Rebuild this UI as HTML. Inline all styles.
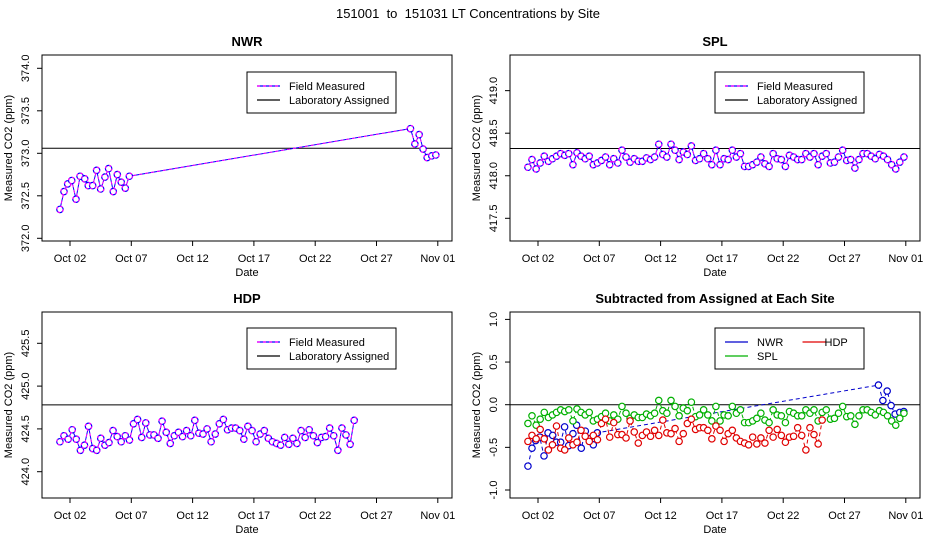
<!DOCTYPE html>
<html><head><meta charset="utf-8"><style>
html,body{margin:0;padding:0;background:#fff}
svg{display:block;font-family:"Liberation Sans",Arial,sans-serif}
text{white-space:pre}
</style></head><body>
<svg id="c" width="936" height="540" xmlns="http://www.w3.org/2000/svg"></svg>
<script>
const nwrDays=[0.18,0.51,0.81,1.14,1.49,1.82,2.20,2.49,2.85,3.17,3.50,3.85,4.15,4.53,4.86,5.18,5.51,5.84,28.77,29.13,29.48,29.80,30.13,30.51,30.84];
const nwrVals=[372.34,372.55,372.64,372.68,372.46,372.73,372.70,372.62,372.62,372.80,372.58,372.72,372.82,372.55,372.75,372.66,372.59,372.73,373.29,373.11,373.22,373.05,372.95,372.97,372.98];
const nwrAssigned=373.06;
const splDays=[0.18,0.51,0.85,1.18,1.51,1.85,2.18,2.51,2.85,3.18,3.51,3.85,4.18,4.51,4.85,5.18,5.51,5.85,6.18,6.51,6.85,7.18,7.51,7.85,8.18,8.51,8.85,9.18,9.51,9.85,10.18,10.51,10.85,11.18,11.51,11.85,12.18,12.51,12.85,13.18,13.51,13.85,14.18,14.51,14.85,15.18,15.51,15.85,16.18,16.51,16.85,17.18,17.51,17.85,18.18,18.51,18.85,19.18,19.51,19.85,20.18,20.51,20.85,21.18,21.51,21.85,22.18,22.51,22.85,23.18,23.51,23.85,24.18,24.51,24.85,25.18,25.51,25.85,26.18,26.51,26.85,27.18,27.51,27.85,28.18,28.51,28.85,29.18,29.51,29.85,30.18,30.51,30.85];
const splVals=[418.10,418.19,418.08,418.15,418.23,418.17,418.20,418.23,418.26,418.24,418.26,418.13,418.27,418.23,418.20,418.23,418.13,418.15,418.18,418.22,418.13,418.20,418.15,418.30,418.22,418.16,418.20,418.17,418.17,418.21,418.19,418.22,418.37,418.25,418.22,418.37,418.30,418.19,418.28,418.25,418.35,418.18,418.20,418.26,418.20,418.13,418.30,418.13,418.20,418.19,418.30,418.22,418.26,418.11,418.11,418.13,418.16,418.22,418.14,418.11,418.26,418.20,418.19,418.11,418.24,418.22,418.19,418.19,418.26,418.22,418.26,418.13,418.23,418.26,418.15,418.16,418.22,418.30,418.18,418.19,418.09,418.19,418.26,418.26,418.23,418.20,418.25,418.23,418.19,418.13,418.08,418.16,418.22];
const splAssigned=418.32;
const hdpDays=[0.18,0.51,0.85,1.18,1.51,1.85,2.18,2.51,2.85,3.18,3.51,3.85,4.18,4.51,4.85,5.18,5.51,5.85,6.18,6.51,6.85,7.18,7.51,7.85,8.18,8.51,8.85,9.18,9.51,9.85,10.18,10.51,10.85,11.18,11.51,11.85,12.18,12.51,12.85,13.18,13.51,13.85,14.18,14.51,14.85,15.18,15.51,15.85,16.18,16.51,16.85,17.18,17.51,17.85,18.18,18.51,18.85,19.18,19.51,19.85,20.18,20.51,20.85,21.18,21.51,21.85,22.18,22.51,22.85,23.18,23.51,23.85,24.18];
const hdpVals=[424.35,424.42,424.38,424.49,424.38,424.25,424.31,424.53,424.27,424.25,424.39,424.31,424.34,424.48,424.41,424.35,424.42,424.37,424.56,424.61,424.40,424.57,424.43,424.43,424.39,424.59,424.46,424.33,424.42,424.46,424.41,424.48,424.42,424.60,424.45,424.44,424.50,424.35,424.44,424.56,424.61,424.49,424.51,424.51,424.48,424.38,424.53,424.48,424.35,424.44,424.48,424.39,424.35,424.33,424.31,424.40,424.32,424.39,424.33,424.48,424.40,424.49,424.42,424.34,424.40,424.41,424.51,424.42,424.25,424.51,424.43,424.32,424.60];
const hdpAssigned=424.78;
const xTickDays=[1,6,11,16,21,26,31];
const xTickLabels=["Oct 02","Oct 07","Oct 12","Oct 17","Oct 22","Oct 27","Nov 01"];
const nwrTicks=[372.0,372.5,373.0,373.5,374.0];
const splTicks=[417.5,418.0,418.5,419.0];
const hdpTicks=[424.0,424.5,425.0,425.5];
const diffTicks=[-1.0,-0.5,0.0,0.5,1.0];

const svg=document.getElementById('c');
const NS='http://www.w3.org/2000/svg';
function el(tag,attrs,parent){const e=document.createElementNS(NS,tag);for(const k in attrs)e.setAttribute(k,attrs[k]);(parent||svg).appendChild(e);return e;}
function txt(s,x,y,attrs,parent){const t=el('text',Object.assign({x:x,y:y,'font-size':11,'text-anchor':'middle',fill:'#000'},attrs),parent);t.textContent=s;return t;}

const t0=txt('151001  to  151031 LT Concentrations by Site',468,18,{'font-size':13});



function panel(cfg){
  const g=el('g',{});
  
  
  const L=cfg.x0,R=L+410,T=cfg.y0,B=T+186;
  const xs=d=>L+28+(d-1)*12.26;
  const ys=v=>cfg.yRef-(v-cfg.vRef)*cfg.ppx;
  const title=txt(cfg.title,(L+R)/2,T-9,{'font-size':13,'font-weight':'bold'},g);
  
  
  const box=el('rect',{x:L,y:T,width:410,height:186,fill:'none',stroke:'#000','stroke-width':1},g);
  
  
  const xa=el('g',{},g);
  
  
  el('line',{x1:xs(xTickDays[0]),x2:xs(xTickDays[xTickDays.length-1]),y1:B,y2:B,stroke:'#000'},xa);
  xTickDays.forEach((d,i)=>{
    el('line',{x1:xs(d),x2:xs(d),y1:B,y2:B+5,stroke:'#000'},xa);
    const l=txt(xTickLabels[i],xs(d),B+21,{},xa);
    
    
  });
  const xt=txt('Date',(L+R)/2,B+35,{},g);
  
  
  const ya=el('g',{},g);
  
  
  el('line',{x1:L,x2:L,y1:ys(cfg.ticks[0]),y2:ys(cfg.ticks[cfg.ticks.length-1]),stroke:'#000'},ya);
  cfg.ticks.forEach(v=>{
    el('line',{x1:L-5,x2:L,y1:ys(v),y2:ys(v),stroke:'#000'},ya);
    const l=txt(v.toFixed(1),0,0,{transform:`translate(${L-13},${ys(v)}) rotate(-90)`},ya);
    
    
  });
  const yt=txt('Measured CO2 (ppm)',0,0,{transform:`translate(${L-30},${(T+B)/2}) rotate(-90)`},g);
  
  
  const rl=el('line',{x1:L,x2:R,y1:ys(cfg.ref),y2:ys(cfg.ref),stroke:'#000'},g);
  
  
  cfg.series.forEach(s=>{
    const sg=el('g',{},g);
    
    
    const pts=s.days.map((d,i)=>xs(d).toFixed(1)+','+ys(s.vals[i]).toFixed(1)).join(' ');
    el('polyline',{points:pts,fill:'none',stroke:s.c1,'stroke-width':1,'stroke-dasharray':s.c2?'':'4,3'},sg);
    if(s.c2)el('polyline',{points:pts,fill:'none',stroke:s.c2,'stroke-width':1,'stroke-dasharray':'3,3'},sg);
    s.days.forEach((d,i)=>{
      const c=el('circle',{cx:xs(d),cy:ys(s.vals[i]),r:3.2,fill:'#fff',stroke:s.c1,'stroke-width':1.2},sg);
      
      
      if(s.c2)el('circle',{cx:xs(d),cy:ys(s.vals[i]),r:3.2,fill:'none',stroke:s.c2,'stroke-width':1.2,'stroke-dasharray':'2.5,2.5'},sg);
    });
  });
  const lg=el('g',{},g);
  
  
  const lx=L+205,ly=T+cfg.legDy;
  el('rect',{x:lx,y:ly,width:149,height:41,fill:'#fff',stroke:'#000'},lg);
  cfg.legend.forEach(e=>{
    const ex=lx+10+e.col*136, ey=ly+14+e.row*14;
    const eg=el('g',{},lg);
    
    
    el('line',{x1:ex,x2:ex+23,y1:ey,y2:ey,stroke:e.c1,'stroke-width':1.2},eg);
    if(e.c2)el('line',{x1:ex,x2:ex+23,y1:ey,y2:ey,stroke:e.c2,'stroke-width':1.2,'stroke-dasharray':'3,3'},eg);
    txt(e.label,ex+32-(e.col?10:0),ey+4,{'text-anchor':'start'},eg);
  });
}
const fmLeg=[{label:'Field Measured',c1:'#0000ff',c2:'#ff00ff',row:0,col:0},{label:'Laboratory Assigned',c1:'#000',row:1,col:0}];
panel({name:'nwr-panel',title:'NWR',x0:42,y0:55,yRef:238.3,vRef:372,ppx:85,ticks:nwrTicks,ref:nwrAssigned,legDy:17,
  series:[{name:'nwr-series',days:nwrDays,vals:nwrVals,c1:'#0000ff',c2:'#ff00ff'}],legend:fmLeg});
panel({name:'spl-panel',title:'SPL',x0:510,y0:55,yRef:218.3,vRef:417.5,ppx:85.1,ticks:splTicks,ref:splAssigned,legDy:17,
  series:[{name:'spl-series',days:splDays,vals:splVals,c1:'#0000ff',c2:'#ff00ff'}],legend:fmLeg});
panel({name:'hdp-panel',title:'HDP',x0:42,y0:312,yRef:471.7,vRef:424,ppx:85.6,ticks:hdpTicks,ref:hdpAssigned,legDy:16,
  series:[{name:'hdp-series',days:hdpDays,vals:hdpVals,c1:'#0000ff',c2:'#ff00ff'}],legend:fmLeg});
panel({name:'difference-panel',title:'Subtracted from Assigned at Each Site',x0:510,y0:312,yRef:490,vRef:-1,ppx:85.3,ticks:diffTicks,ref:0,legDy:16,
  series:[
    {name:'nwr-diff-series',days:nwrDays,vals:nwrVals.map(v=>v-nwrAssigned),c1:'#0000cc'},
    {name:'spl-diff-series',days:splDays,vals:splVals.map(v=>v-splAssigned),c1:'#00b000'},
    {name:'hdp-diff-series',days:hdpDays,vals:hdpVals.map(v=>v-hdpAssigned),c1:'#e00000'}],
  legend:[{label:'NWR',c1:'#0000cc',row:0,col:0},{label:'SPL',c1:'#00b000',row:1,col:0},{label:'HDP',c1:'#e00000',row:0,col:0.57}]});
</script>
</body></html>
